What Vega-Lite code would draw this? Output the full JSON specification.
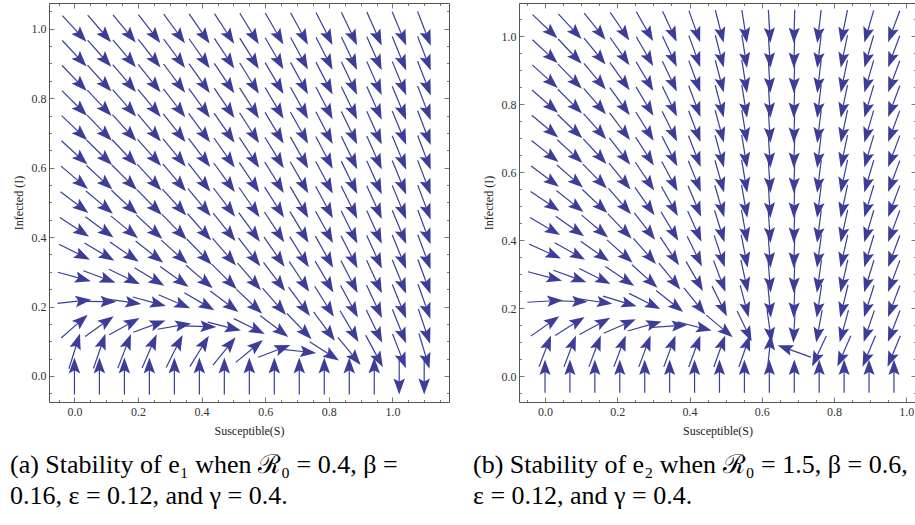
{
"$schema": "https://vega.github.io/schema/vega-lite/v6.json",
"background": "white",
"padding": {"left": 9, "top": 2, "right": 0, "bottom": 0},
"spacing": 22,
"config": {
  "view": {"stroke": "#555", "strokeWidth": 1},
  "title": {"font": "Times New Roman, Liberation Serif, DejaVu Serif, serif", "fontWeight": "normal", "color": "#000"},
  "axis": {"labelFont": "Times New Roman, Liberation Serif, serif", "labelFontSize": 12, "labelColor": "#333", "titleFont": "Times New Roman, Liberation Serif, serif", "titleFontSize": 12, "titleFontWeight": "normal", "titleColor": "#222", "tickColor": "#555", "tickWidth": 0.8, "domain": false, "grid": false, "labelFlush": false, "labelOverlap": false}
},
"datasets": {
"a": [
{"S":0,"I":0,"u":0,"v":1.68},{"S":0,"I":0.0714,"u":0.4,"v":1.16},{"S":0,"I":0.1429,"u":0.8,"v":0.64},{"S":0,"I":0.2143,"u":1.2,"v":0.12},{"S":0,"I":0.2857,"u":1.6,"v":-0.4},{"S":0,"I":0.3571,"u":2,"v":-0.92},{"S":0,"I":0.4286,"u":2.4,"v":-1.44},{"S":0,"I":0.5,"u":2.8,"v":-1.96},{"S":0,"I":0.5714,"u":3.2,"v":-2.48},{"S":0,"I":0.6429,"u":3.6,"v":-3},{"S":0,"I":0.7143,"u":4,"v":-3.52},{"S":0,"I":0.7857,"u":4.4,"v":-4.04},{"S":0,"I":0.8571,"u":4.8,"v":-4.56},{"S":0,"I":0.9286,"u":5.2,"v":-5.08},{"S":0,"I":1,"u":5.6,"v":-5.6},
{"S":0.0786,"I":0,"u":0,"v":1.548},{"S":0.0786,"I":0.0714,"u":0.387,"v":1.028},{"S":0.0786,"I":0.1429,"u":0.775,"v":0.508},{"S":0.0786,"I":0.2143,"u":1.162,"v":-0.012},{"S":0.0786,"I":0.2857,"u":1.55,"v":-0.532},{"S":0.0786,"I":0.3571,"u":1.937,"v":-1.052},{"S":0.0786,"I":0.4286,"u":2.324,"v":-1.572},{"S":0.0786,"I":0.5,"u":2.712,"v":-2.092},{"S":0.0786,"I":0.5714,"u":3.099,"v":-2.612},{"S":0.0786,"I":0.6429,"u":3.487,"v":-3.132},{"S":0.0786,"I":0.7143,"u":3.874,"v":-3.652},{"S":0.0786,"I":0.7857,"u":4.261,"v":-4.172},{"S":0.0786,"I":0.8571,"u":4.649,"v":-4.692},{"S":0.0786,"I":0.9286,"u":5.036,"v":-5.212},{"S":0.0786,"I":1,"u":5.424,"v":-5.732},
{"S":0.1571,"I":0,"u":0,"v":1.416},{"S":0.1571,"I":0.0714,"u":0.375,"v":0.896},{"S":0.1571,"I":0.1429,"u":0.75,"v":0.376},{"S":0.1571,"I":0.2143,"u":1.125,"v":-0.144},{"S":0.1571,"I":0.2857,"u":1.5,"v":-0.664},{"S":0.1571,"I":0.3571,"u":1.874,"v":-1.184},{"S":0.1571,"I":0.4286,"u":2.249,"v":-1.704},{"S":0.1571,"I":0.5,"u":2.624,"v":-2.224},{"S":0.1571,"I":0.5714,"u":2.999,"v":-2.744},{"S":0.1571,"I":0.6429,"u":3.374,"v":-3.264},{"S":0.1571,"I":0.7143,"u":3.749,"v":-3.784},{"S":0.1571,"I":0.7857,"u":4.124,"v":-4.304},{"S":0.1571,"I":0.8571,"u":4.499,"v":-4.824},{"S":0.1571,"I":0.9286,"u":4.874,"v":-5.344},{"S":0.1571,"I":1,"u":5.249,"v":-5.864},
{"S":0.2357,"I":0,"u":0,"v":1.284},{"S":0.2357,"I":0.0714,"u":0.362,"v":0.764},{"S":0.2357,"I":0.1429,"u":0.725,"v":0.244},{"S":0.2357,"I":0.2143,"u":1.087,"v":-0.276},{"S":0.2357,"I":0.2857,"u":1.449,"v":-0.796},{"S":0.2357,"I":0.3571,"u":1.811,"v":-1.316},{"S":0.2357,"I":0.4286,"u":2.174,"v":-1.836},{"S":0.2357,"I":0.5,"u":2.536,"v":-2.356},{"S":0.2357,"I":0.5714,"u":2.898,"v":-2.876},{"S":0.2357,"I":0.6429,"u":3.261,"v":-3.396},{"S":0.2357,"I":0.7143,"u":3.623,"v":-3.916},{"S":0.2357,"I":0.7857,"u":3.985,"v":-4.436},{"S":0.2357,"I":0.8571,"u":4.348,"v":-4.956},{"S":0.2357,"I":0.9286,"u":4.71,"v":-5.476},{"S":0.2357,"I":1,"u":5.072,"v":-5.996},
{"S":0.3143,"I":0,"u":0,"v":1.152},{"S":0.3143,"I":0.0714,"u":0.35,"v":0.632},{"S":0.3143,"I":0.1429,"u":0.699,"v":0.112},{"S":0.3143,"I":0.2143,"u":1.049,"v":-0.408},{"S":0.3143,"I":0.2857,"u":1.399,"v":-0.928},{"S":0.3143,"I":0.3571,"u":1.749,"v":-1.448},{"S":0.3143,"I":0.4286,"u":2.098,"v":-1.968},{"S":0.3143,"I":0.5,"u":2.448,"v":-2.488},{"S":0.3143,"I":0.5714,"u":2.798,"v":-3.008},{"S":0.3143,"I":0.6429,"u":3.147,"v":-3.528},{"S":0.3143,"I":0.7143,"u":3.497,"v":-4.048},{"S":0.3143,"I":0.7857,"u":3.847,"v":-4.568},{"S":0.3143,"I":0.8571,"u":4.196,"v":-5.088},{"S":0.3143,"I":0.9286,"u":4.546,"v":-5.608},{"S":0.3143,"I":1,"u":4.896,"v":-6.128},
{"S":0.3929,"I":0,"u":0,"v":1.02},{"S":0.3929,"I":0.0714,"u":0.337,"v":0.5},{"S":0.3929,"I":0.1429,"u":0.674,"v":-0.02},{"S":0.3929,"I":0.2143,"u":1.011,"v":-0.54},{"S":0.3929,"I":0.2857,"u":1.348,"v":-1.06},{"S":0.3929,"I":0.3571,"u":1.686,"v":-1.58},{"S":0.3929,"I":0.4286,"u":2.023,"v":-2.1},{"S":0.3929,"I":0.5,"u":2.36,"v":-2.62},{"S":0.3929,"I":0.5714,"u":2.697,"v":-3.14},{"S":0.3929,"I":0.6429,"u":3.034,"v":-3.66},{"S":0.3929,"I":0.7143,"u":3.371,"v":-4.18},{"S":0.3929,"I":0.7857,"u":3.708,"v":-4.7},{"S":0.3929,"I":0.8571,"u":4.045,"v":-5.22},{"S":0.3929,"I":0.9286,"u":4.382,"v":-5.74},{"S":0.3929,"I":1,"u":4.719,"v":-6.26},
{"S":0.4714,"I":0,"u":0,"v":0.888},{"S":0.4714,"I":0.0714,"u":0.325,"v":0.368},{"S":0.4714,"I":0.1429,"u":0.649,"v":-0.152},{"S":0.4714,"I":0.2143,"u":0.974,"v":-0.672},{"S":0.4714,"I":0.2857,"u":1.298,"v":-1.192},{"S":0.4714,"I":0.3571,"u":1.623,"v":-1.712},{"S":0.4714,"I":0.4286,"u":1.948,"v":-2.232},{"S":0.4714,"I":0.5,"u":2.272,"v":-2.752},{"S":0.4714,"I":0.5714,"u":2.597,"v":-3.272},{"S":0.4714,"I":0.6429,"u":2.921,"v":-3.792},{"S":0.4714,"I":0.7143,"u":3.246,"v":-4.312},{"S":0.4714,"I":0.7857,"u":3.571,"v":-4.832},{"S":0.4714,"I":0.8571,"u":3.895,"v":-5.352},{"S":0.4714,"I":0.9286,"u":4.22,"v":-5.872},{"S":0.4714,"I":1,"u":4.544,"v":-6.392},
{"S":0.55,"I":0,"u":0,"v":0.756},{"S":0.55,"I":0.0714,"u":0.312,"v":0.236},{"S":0.55,"I":0.1429,"u":0.624,"v":-0.284},{"S":0.55,"I":0.2143,"u":0.936,"v":-0.804},{"S":0.55,"I":0.2857,"u":1.248,"v":-1.324},{"S":0.55,"I":0.3571,"u":1.56,"v":-1.844},{"S":0.55,"I":0.4286,"u":1.872,"v":-2.364},{"S":0.55,"I":0.5,"u":2.184,"v":-2.884},{"S":0.55,"I":0.5714,"u":2.496,"v":-3.404},{"S":0.55,"I":0.6429,"u":2.808,"v":-3.924},{"S":0.55,"I":0.7143,"u":3.12,"v":-4.444},{"S":0.55,"I":0.7857,"u":3.432,"v":-4.964},{"S":0.55,"I":0.8571,"u":3.744,"v":-5.484},{"S":0.55,"I":0.9286,"u":4.056,"v":-6.004},{"S":0.55,"I":1,"u":4.368,"v":-6.524},
{"S":0.6286,"I":0,"u":0,"v":0.624},{"S":0.6286,"I":0.0714,"u":0.299,"v":0.104},{"S":0.6286,"I":0.1429,"u":0.599,"v":-0.416},{"S":0.6286,"I":0.2143,"u":0.898,"v":-0.936},{"S":0.6286,"I":0.2857,"u":1.198,"v":-1.456},{"S":0.6286,"I":0.3571,"u":1.497,"v":-1.976},{"S":0.6286,"I":0.4286,"u":1.796,"v":-2.496},{"S":0.6286,"I":0.5,"u":2.096,"v":-3.016},{"S":0.6286,"I":0.5714,"u":2.395,"v":-3.536},{"S":0.6286,"I":0.6429,"u":2.695,"v":-4.056},{"S":0.6286,"I":0.7143,"u":2.994,"v":-4.576},{"S":0.6286,"I":0.7857,"u":3.293,"v":-5.096},{"S":0.6286,"I":0.8571,"u":3.593,"v":-5.616},{"S":0.6286,"I":0.9286,"u":3.892,"v":-6.136},{"S":0.6286,"I":1,"u":4.192,"v":-6.656},
{"S":0.7071,"I":0,"u":0,"v":0.492},{"S":0.7071,"I":0.0714,"u":0.287,"v":-0.028},{"S":0.7071,"I":0.1429,"u":0.574,"v":-0.548},{"S":0.7071,"I":0.2143,"u":0.861,"v":-1.068},{"S":0.7071,"I":0.2857,"u":1.148,"v":-1.588},{"S":0.7071,"I":0.3571,"u":1.435,"v":-2.108},{"S":0.7071,"I":0.4286,"u":1.721,"v":-2.628},{"S":0.7071,"I":0.5,"u":2.008,"v":-3.148},{"S":0.7071,"I":0.5714,"u":2.295,"v":-3.668},{"S":0.7071,"I":0.6429,"u":2.582,"v":-4.188},{"S":0.7071,"I":0.7143,"u":2.869,"v":-4.708},{"S":0.7071,"I":0.7857,"u":3.156,"v":-5.228},{"S":0.7071,"I":0.8571,"u":3.443,"v":-5.748},{"S":0.7071,"I":0.9286,"u":3.73,"v":-6.268},{"S":0.7071,"I":1,"u":4.017,"v":-6.788},
{"S":0.7857,"I":0,"u":0,"v":0.36},{"S":0.7857,"I":0.0714,"u":0.274,"v":-0.16},{"S":0.7857,"I":0.1429,"u":0.549,"v":-0.68},{"S":0.7857,"I":0.2143,"u":0.823,"v":-1.2},{"S":0.7857,"I":0.2857,"u":1.097,"v":-1.72},{"S":0.7857,"I":0.3571,"u":1.372,"v":-2.24},{"S":0.7857,"I":0.4286,"u":1.646,"v":-2.76},{"S":0.7857,"I":0.5,"u":1.92,"v":-3.28},{"S":0.7857,"I":0.5714,"u":2.194,"v":-3.8},{"S":0.7857,"I":0.6429,"u":2.469,"v":-4.32},{"S":0.7857,"I":0.7143,"u":2.743,"v":-4.84},{"S":0.7857,"I":0.7857,"u":3.017,"v":-5.36},{"S":0.7857,"I":0.8571,"u":3.292,"v":-5.88},{"S":0.7857,"I":0.9286,"u":3.566,"v":-6.4},{"S":0.7857,"I":1,"u":3.84,"v":-6.92},
{"S":0.8643,"I":0,"u":0,"v":0.228},{"S":0.8643,"I":0.0714,"u":0.262,"v":-0.292},{"S":0.8643,"I":0.1429,"u":0.523,"v":-0.812},{"S":0.8643,"I":0.2143,"u":0.785,"v":-1.332},{"S":0.8643,"I":0.2857,"u":1.047,"v":-1.852},{"S":0.8643,"I":0.3571,"u":1.309,"v":-2.372},{"S":0.8643,"I":0.4286,"u":1.57,"v":-2.892},{"S":0.8643,"I":0.5,"u":1.832,"v":-3.412},{"S":0.8643,"I":0.5714,"u":2.094,"v":-3.932},{"S":0.8643,"I":0.6429,"u":2.355,"v":-4.452},{"S":0.8643,"I":0.7143,"u":2.617,"v":-4.972},{"S":0.8643,"I":0.7857,"u":2.879,"v":-5.492},{"S":0.8643,"I":0.8571,"u":3.14,"v":-6.012},{"S":0.8643,"I":0.9286,"u":3.402,"v":-6.532},{"S":0.8643,"I":1,"u":3.664,"v":-7.052},
{"S":0.9429,"I":0,"u":0,"v":0.096},{"S":0.9429,"I":0.0714,"u":0.249,"v":-0.424},{"S":0.9429,"I":0.1429,"u":0.498,"v":-0.944},{"S":0.9429,"I":0.2143,"u":0.747,"v":-1.464},{"S":0.9429,"I":0.2857,"u":0.996,"v":-1.984},{"S":0.9429,"I":0.3571,"u":1.246,"v":-2.504},{"S":0.9429,"I":0.4286,"u":1.495,"v":-3.024},{"S":0.9429,"I":0.5,"u":1.744,"v":-3.544},{"S":0.9429,"I":0.5714,"u":1.993,"v":-4.064},{"S":0.9429,"I":0.6429,"u":2.242,"v":-4.584},{"S":0.9429,"I":0.7143,"u":2.491,"v":-5.104},{"S":0.9429,"I":0.7857,"u":2.74,"v":-5.624},{"S":0.9429,"I":0.8571,"u":2.989,"v":-6.144},{"S":0.9429,"I":0.9286,"u":3.238,"v":-6.664},{"S":0.9429,"I":1,"u":3.487,"v":-7.184},
{"S":1.0214,"I":0,"u":0,"v":-0.036},{"S":1.0214,"I":0.0714,"u":0.237,"v":-0.556},{"S":1.0214,"I":0.1429,"u":0.473,"v":-1.076},{"S":1.0214,"I":0.2143,"u":0.71,"v":-1.596},{"S":1.0214,"I":0.2857,"u":0.946,"v":-2.116},{"S":1.0214,"I":0.3571,"u":1.183,"v":-2.636},{"S":1.0214,"I":0.4286,"u":1.42,"v":-3.156},{"S":1.0214,"I":0.5,"u":1.656,"v":-3.676},{"S":1.0214,"I":0.5714,"u":1.893,"v":-4.196},{"S":1.0214,"I":0.6429,"u":2.129,"v":-4.716},{"S":1.0214,"I":0.7143,"u":2.366,"v":-5.236},{"S":1.0214,"I":0.7857,"u":2.603,"v":-5.756},{"S":1.0214,"I":0.8571,"u":2.839,"v":-6.276},{"S":1.0214,"I":0.9286,"u":3.076,"v":-6.796},{"S":1.0214,"I":1,"u":3.312,"v":-7.316},
{"S":1.1,"I":0,"u":0,"v":-0.168},{"S":1.1,"I":0.0714,"u":0.224,"v":-0.688},{"S":1.1,"I":0.1429,"u":0.448,"v":-1.208},{"S":1.1,"I":0.2143,"u":0.672,"v":-1.728},{"S":1.1,"I":0.2857,"u":0.896,"v":-2.248},{"S":1.1,"I":0.3571,"u":1.12,"v":-2.768},{"S":1.1,"I":0.4286,"u":1.344,"v":-3.288},{"S":1.1,"I":0.5,"u":1.568,"v":-3.808},{"S":1.1,"I":0.5714,"u":1.792,"v":-4.328},{"S":1.1,"I":0.6429,"u":2.016,"v":-4.848},{"S":1.1,"I":0.7143,"u":2.24,"v":-5.368},{"S":1.1,"I":0.7857,"u":2.464,"v":-5.888},{"S":1.1,"I":0.8571,"u":2.688,"v":-6.408},{"S":1.1,"I":0.9286,"u":2.912,"v":-6.928},{"S":1.1,"I":1,"u":3.136,"v":-7.448}
],
"b": [
{"S":0,"I":0,"u":0,"v":1.633},{"S":0,"I":0.0735,"u":0.4,"v":1.113},{"S":0,"I":0.147,"u":0.8,"v":0.593},{"S":0,"I":0.2205,"u":1.2,"v":0.073},{"S":0,"I":0.294,"u":1.6,"v":-0.447},{"S":0,"I":0.3675,"u":2,"v":-0.967},{"S":0,"I":0.441,"u":2.4,"v":-1.487},{"S":0,"I":0.5145,"u":2.8,"v":-2.007},{"S":0,"I":0.588,"u":3.2,"v":-2.527},{"S":0,"I":0.6615,"u":3.6,"v":-3.047},{"S":0,"I":0.735,"u":4,"v":-3.567},{"S":0,"I":0.8085,"u":4.4,"v":-4.087},{"S":0,"I":0.882,"u":4.8,"v":-4.607},{"S":0,"I":0.9555,"u":5.2,"v":-5.127},{"S":0,"I":1.029,"u":5.6,"v":-5.647},
{"S":0.069,"I":0,"u":0,"v":1.52},{"S":0.069,"I":0.0735,"u":0.359,"v":1},{"S":0.069,"I":0.147,"u":0.717,"v":0.48},{"S":0.069,"I":0.2205,"u":1.076,"v":-0.04},{"S":0.069,"I":0.294,"u":1.434,"v":-0.56},{"S":0.069,"I":0.3675,"u":1.793,"v":-1.08},{"S":0.069,"I":0.441,"u":2.152,"v":-1.6},{"S":0.069,"I":0.5145,"u":2.51,"v":-2.12},{"S":0.069,"I":0.588,"u":2.869,"v":-2.64},{"S":0.069,"I":0.6615,"u":3.227,"v":-3.16},{"S":0.069,"I":0.735,"u":3.586,"v":-3.68},{"S":0.069,"I":0.8085,"u":3.945,"v":-4.2},{"S":0.069,"I":0.882,"u":4.303,"v":-4.72},{"S":0.069,"I":0.9555,"u":4.662,"v":-5.24},{"S":0.069,"I":1.029,"u":5.02,"v":-5.76},
{"S":0.138,"I":0,"u":0,"v":1.407},{"S":0.138,"I":0.0735,"u":0.317,"v":0.887},{"S":0.138,"I":0.147,"u":0.634,"v":0.367},{"S":0.138,"I":0.2205,"u":0.952,"v":-0.153},{"S":0.138,"I":0.294,"u":1.269,"v":-0.673},{"S":0.138,"I":0.3675,"u":1.586,"v":-1.193},{"S":0.138,"I":0.441,"u":1.903,"v":-1.713},{"S":0.138,"I":0.5145,"u":2.22,"v":-2.233},{"S":0.138,"I":0.588,"u":2.538,"v":-2.753},{"S":0.138,"I":0.6615,"u":2.855,"v":-3.273},{"S":0.138,"I":0.735,"u":3.172,"v":-3.793},{"S":0.138,"I":0.8085,"u":3.489,"v":-4.313},{"S":0.138,"I":0.882,"u":3.806,"v":-4.833},{"S":0.138,"I":0.9555,"u":4.124,"v":-5.353},{"S":0.138,"I":1.029,"u":4.441,"v":-5.873},
{"S":0.207,"I":0,"u":0,"v":1.295},{"S":0.207,"I":0.0735,"u":0.276,"v":0.775},{"S":0.207,"I":0.147,"u":0.552,"v":0.255},{"S":0.207,"I":0.2205,"u":0.827,"v":-0.265},{"S":0.207,"I":0.294,"u":1.103,"v":-0.785},{"S":0.207,"I":0.3675,"u":1.379,"v":-1.305},{"S":0.207,"I":0.441,"u":1.655,"v":-1.825},{"S":0.207,"I":0.5145,"u":1.931,"v":-2.345},{"S":0.207,"I":0.588,"u":2.206,"v":-2.865},{"S":0.207,"I":0.6615,"u":2.482,"v":-3.385},{"S":0.207,"I":0.735,"u":2.758,"v":-3.905},{"S":0.207,"I":0.8085,"u":3.034,"v":-4.425},{"S":0.207,"I":0.882,"u":3.31,"v":-4.945},{"S":0.207,"I":0.9555,"u":3.585,"v":-5.465},{"S":0.207,"I":1.029,"u":3.861,"v":-5.985},
{"S":0.276,"I":0,"u":0,"v":1.182},{"S":0.276,"I":0.0735,"u":0.234,"v":0.662},{"S":0.276,"I":0.147,"u":0.469,"v":0.142},{"S":0.276,"I":0.2205,"u":0.703,"v":-0.378},{"S":0.276,"I":0.294,"u":0.938,"v":-0.898},{"S":0.276,"I":0.3675,"u":1.172,"v":-1.418},{"S":0.276,"I":0.441,"u":1.406,"v":-1.938},{"S":0.276,"I":0.5145,"u":1.641,"v":-2.458},{"S":0.276,"I":0.588,"u":1.875,"v":-2.978},{"S":0.276,"I":0.6615,"u":2.11,"v":-3.498},{"S":0.276,"I":0.735,"u":2.344,"v":-4.018},{"S":0.276,"I":0.8085,"u":2.578,"v":-4.538},{"S":0.276,"I":0.882,"u":2.813,"v":-5.058},{"S":0.276,"I":0.9555,"u":3.047,"v":-5.578},{"S":0.276,"I":1.029,"u":3.282,"v":-6.098},
{"S":0.345,"I":0,"u":0,"v":1.069},{"S":0.345,"I":0.0735,"u":0.193,"v":0.549},{"S":0.345,"I":0.147,"u":0.386,"v":0.029},{"S":0.345,"I":0.2205,"u":0.579,"v":-0.491},{"S":0.345,"I":0.294,"u":0.772,"v":-1.011},{"S":0.345,"I":0.3675,"u":0.965,"v":-1.531},{"S":0.345,"I":0.441,"u":1.158,"v":-2.051},{"S":0.345,"I":0.5145,"u":1.351,"v":-2.571},{"S":0.345,"I":0.588,"u":1.544,"v":-3.091},{"S":0.345,"I":0.6615,"u":1.737,"v":-3.611},{"S":0.345,"I":0.735,"u":1.93,"v":-4.131},{"S":0.345,"I":0.8085,"u":2.123,"v":-4.651},{"S":0.345,"I":0.882,"u":2.316,"v":-5.171},{"S":0.345,"I":0.9555,"u":2.509,"v":-5.691},{"S":0.345,"I":1.029,"u":2.702,"v":-6.211},
{"S":0.414,"I":0,"u":0,"v":0.957},{"S":0.414,"I":0.0735,"u":0.152,"v":0.437},{"S":0.414,"I":0.147,"u":0.303,"v":-0.083},{"S":0.414,"I":0.2205,"u":0.455,"v":-0.603},{"S":0.414,"I":0.294,"u":0.606,"v":-1.123},{"S":0.414,"I":0.3675,"u":0.758,"v":-1.643},{"S":0.414,"I":0.441,"u":0.91,"v":-2.163},{"S":0.414,"I":0.5145,"u":1.061,"v":-2.683},{"S":0.414,"I":0.588,"u":1.213,"v":-3.203},{"S":0.414,"I":0.6615,"u":1.364,"v":-3.723},{"S":0.414,"I":0.735,"u":1.516,"v":-4.243},{"S":0.414,"I":0.8085,"u":1.668,"v":-4.763},{"S":0.414,"I":0.882,"u":1.819,"v":-5.283},{"S":0.414,"I":0.9555,"u":1.971,"v":-5.803},{"S":0.414,"I":1.029,"u":2.122,"v":-6.323},
{"S":0.483,"I":0,"u":0,"v":0.844},{"S":0.483,"I":0.0735,"u":0.11,"v":0.324},{"S":0.483,"I":0.147,"u":0.22,"v":-0.196},{"S":0.483,"I":0.2205,"u":0.331,"v":-0.716},{"S":0.483,"I":0.294,"u":0.441,"v":-1.236},{"S":0.483,"I":0.3675,"u":0.551,"v":-1.756},{"S":0.483,"I":0.441,"u":0.661,"v":-2.276},{"S":0.483,"I":0.5145,"u":0.771,"v":-2.796},{"S":0.483,"I":0.588,"u":0.882,"v":-3.316},{"S":0.483,"I":0.6615,"u":0.992,"v":-3.836},{"S":0.483,"I":0.735,"u":1.102,"v":-4.356},{"S":0.483,"I":0.8085,"u":1.212,"v":-4.876},{"S":0.483,"I":0.882,"u":1.322,"v":-5.396},{"S":0.483,"I":0.9555,"u":1.433,"v":-5.916},{"S":0.483,"I":1.029,"u":1.543,"v":-6.436},
{"S":0.552,"I":0,"u":0,"v":0.732},{"S":0.552,"I":0.0735,"u":0.069,"v":0.212},{"S":0.552,"I":0.147,"u":0.138,"v":-0.308},{"S":0.552,"I":0.2205,"u":0.206,"v":-0.828},{"S":0.552,"I":0.294,"u":0.275,"v":-1.348},{"S":0.552,"I":0.3675,"u":0.344,"v":-1.868},{"S":0.552,"I":0.441,"u":0.413,"v":-2.388},{"S":0.552,"I":0.5145,"u":0.482,"v":-2.908},{"S":0.552,"I":0.588,"u":0.55,"v":-3.428},{"S":0.552,"I":0.6615,"u":0.619,"v":-3.948},{"S":0.552,"I":0.735,"u":0.688,"v":-4.468},{"S":0.552,"I":0.8085,"u":0.757,"v":-4.988},{"S":0.552,"I":0.882,"u":0.826,"v":-5.508},{"S":0.552,"I":0.9555,"u":0.894,"v":-6.028},{"S":0.552,"I":1.029,"u":0.963,"v":-6.548},
{"S":0.621,"I":0,"u":0,"v":0.619},{"S":0.621,"I":0.0735,"u":0.01,"v":0.099},{"S":0.621,"I":0.147,"u":0.055,"v":-0.421},{"S":0.621,"I":0.2205,"u":0.082,"v":-0.941},{"S":0.621,"I":0.294,"u":0.11,"v":-1.461},{"S":0.621,"I":0.3675,"u":0.137,"v":-1.981},{"S":0.621,"I":0.441,"u":0.164,"v":-2.501},{"S":0.621,"I":0.5145,"u":0.192,"v":-3.021},{"S":0.621,"I":0.588,"u":0.219,"v":-3.541},{"S":0.621,"I":0.6615,"u":0.247,"v":-4.061},{"S":0.621,"I":0.735,"u":0.274,"v":-4.581},{"S":0.621,"I":0.8085,"u":0.301,"v":-5.101},{"S":0.621,"I":0.882,"u":0.329,"v":-5.621},{"S":0.621,"I":0.9555,"u":0.356,"v":-6.141},{"S":0.621,"I":1.029,"u":0.384,"v":-6.661},
{"S":0.69,"I":0,"u":0,"v":0.506},{"S":0.69,"I":0.0735,"u":-0.097,"v":0.037},{"S":0.69,"I":0.147,"u":-0.028,"v":-0.534},{"S":0.69,"I":0.2205,"u":-0.042,"v":-1.054},{"S":0.69,"I":0.294,"u":-0.056,"v":-1.574},{"S":0.69,"I":0.3675,"u":-0.07,"v":-2.094},{"S":0.69,"I":0.441,"u":-0.084,"v":-2.614},{"S":0.69,"I":0.5145,"u":-0.098,"v":-3.134},{"S":0.69,"I":0.588,"u":-0.112,"v":-3.654},{"S":0.69,"I":0.6615,"u":-0.126,"v":-4.174},{"S":0.69,"I":0.735,"u":-0.14,"v":-4.694},{"S":0.69,"I":0.8085,"u":-0.154,"v":-5.214},{"S":0.69,"I":0.882,"u":-0.168,"v":-5.734},{"S":0.69,"I":0.9555,"u":-0.182,"v":-6.254},{"S":0.69,"I":1.029,"u":-0.196,"v":-6.774},
{"S":0.759,"I":0,"u":0,"v":0.394},{"S":0.759,"I":0.0735,"u":-0.055,"v":-0.126},{"S":0.759,"I":0.147,"u":-0.111,"v":-0.646},{"S":0.759,"I":0.2205,"u":-0.166,"v":-1.166},{"S":0.759,"I":0.294,"u":-0.222,"v":-1.686},{"S":0.759,"I":0.3675,"u":-0.277,"v":-2.206},{"S":0.759,"I":0.441,"u":-0.332,"v":-2.726},{"S":0.759,"I":0.5145,"u":-0.388,"v":-3.246},{"S":0.759,"I":0.588,"u":-0.443,"v":-3.766},{"S":0.759,"I":0.6615,"u":-0.499,"v":-4.286},{"S":0.759,"I":0.735,"u":-0.554,"v":-4.806},{"S":0.759,"I":0.8085,"u":-0.609,"v":-5.326},{"S":0.759,"I":0.882,"u":-0.665,"v":-5.846},{"S":0.759,"I":0.9555,"u":-0.72,"v":-6.366},{"S":0.759,"I":1.029,"u":-0.776,"v":-6.886},
{"S":0.828,"I":0,"u":0,"v":0.281},{"S":0.828,"I":0.0735,"u":-0.097,"v":-0.239},{"S":0.828,"I":0.147,"u":-0.194,"v":-0.759},{"S":0.828,"I":0.2205,"u":-0.29,"v":-1.279},{"S":0.828,"I":0.294,"u":-0.387,"v":-1.799},{"S":0.828,"I":0.3675,"u":-0.484,"v":-2.319},{"S":0.828,"I":0.441,"u":-0.581,"v":-2.839},{"S":0.828,"I":0.5145,"u":-0.678,"v":-3.359},{"S":0.828,"I":0.588,"u":-0.774,"v":-3.879},{"S":0.828,"I":0.6615,"u":-0.871,"v":-4.399},{"S":0.828,"I":0.735,"u":-0.968,"v":-4.919},{"S":0.828,"I":0.8085,"u":-1.065,"v":-5.439},{"S":0.828,"I":0.882,"u":-1.162,"v":-5.959},{"S":0.828,"I":0.9555,"u":-1.258,"v":-6.479},{"S":0.828,"I":1.029,"u":-1.355,"v":-6.999},
{"S":0.897,"I":0,"u":0,"v":0.168},{"S":0.897,"I":0.0735,"u":-0.138,"v":-0.352},{"S":0.897,"I":0.147,"u":-0.276,"v":-0.872},{"S":0.897,"I":0.2205,"u":-0.415,"v":-1.392},{"S":0.897,"I":0.294,"u":-0.553,"v":-1.912},{"S":0.897,"I":0.3675,"u":-0.691,"v":-2.432},{"S":0.897,"I":0.441,"u":-0.829,"v":-2.952},{"S":0.897,"I":0.5145,"u":-0.967,"v":-3.472},{"S":0.897,"I":0.588,"u":-1.106,"v":-3.992},{"S":0.897,"I":0.6615,"u":-1.244,"v":-4.512},{"S":0.897,"I":0.735,"u":-1.382,"v":-5.032},{"S":0.897,"I":0.8085,"u":-1.52,"v":-5.552},{"S":0.897,"I":0.882,"u":-1.658,"v":-6.072},{"S":0.897,"I":0.9555,"u":-1.797,"v":-6.592},{"S":0.897,"I":1.029,"u":-1.935,"v":-7.112},
{"S":0.966,"I":0,"u":0,"v":0.056},{"S":0.966,"I":0.0735,"u":-0.18,"v":-0.464},{"S":0.966,"I":0.147,"u":-0.359,"v":-0.984},{"S":0.966,"I":0.2205,"u":-0.539,"v":-1.504},{"S":0.966,"I":0.294,"u":-0.718,"v":-2.024},{"S":0.966,"I":0.3675,"u":-0.898,"v":-2.544},{"S":0.966,"I":0.441,"u":-1.078,"v":-3.064},{"S":0.966,"I":0.5145,"u":-1.257,"v":-3.584},{"S":0.966,"I":0.588,"u":-1.437,"v":-4.104},{"S":0.966,"I":0.6615,"u":-1.616,"v":-4.624},{"S":0.966,"I":0.735,"u":-1.796,"v":-5.144},{"S":0.966,"I":0.8085,"u":-1.976,"v":-5.664},{"S":0.966,"I":0.882,"u":-2.155,"v":-6.184},{"S":0.966,"I":0.9555,"u":-2.335,"v":-6.704},{"S":0.966,"I":1.029,"u":-2.514,"v":-7.224}
]
},
"hconcat": [
{
  "data": {"name": "a"},
  "width": 400, "height": 399,
  "title": {"text": ["(a) Stability of e₁ when ℛ₀ = 0.4, β =", "0.16, ε = 0.12, and γ = 0.4."], "orient": "bottom", "anchor": "start", "frame": "bounds", "fontSize": 26, "lineHeight": 31, "offset": 16, "dx": -2},
  "transform": [
    {"calculate": "sqrt(datum.u*datum.u+datum.v*datum.v)", "as": "n"},
    {"calculate": "datum.u/datum.n", "as": "ux"},
    {"calculate": "datum.v/datum.n", "as": "vy"},
    {"calculate": "datum.S-0.0535*datum.ux", "as": "x0"},
    {"calculate": "datum.I-0.0535*datum.vy", "as": "y0"},
    {"calculate": "datum.S+0.025*datum.ux", "as": "xs"},
    {"calculate": "datum.I+0.025*datum.vy", "as": "ys"},
    {"calculate": "datum.S+0.0535*datum.ux", "as": "xe"},
    {"calculate": "datum.I+0.0535*datum.vy", "as": "ye"},
    {"calculate": "atan2(datum.ux*318, datum.vy*347)*180/PI", "as": "ang"}
  ],
  "layer": [
    {"mark": {"type": "rule", "color": "#3b3d99", "strokeWidth": 1.2},
     "encoding": {
       "x": {"field": "x0", "type": "quantitative", "scale": {"domain": [-0.08, 1.178], "nice": false, "zero": false}, "axis": {"orient": "bottom", "values": [0, 0.2, 0.4, 0.6, 0.8, 1], "format": ".1f", "tickSize": -5, "labelPadding": 9, "title": "Susceptible(S)", "titlePadding": 8}},
       "x2": {"field": "xs"},
       "y": {"field": "y0", "type": "quantitative", "scale": {"domain": [-0.075, 1.074], "nice": false, "zero": false}, "axis": {"orient": "left", "values": [0, 0.2, 0.4, 0.6, 0.8, 1], "format": ".1f", "tickSize": -5, "labelPadding": 8, "title": "Infected (I)", "titlePadding": 6}},
       "y2": {"field": "ys"}
     }},
    {"mark": {"type": "point", "shape": "M0,0L0.72,2L0,1.62L-0.72,2Z", "filled": true, "size": 256, "color": "#3b3d99", "opacity": 1, "strokeWidth": 0},
     "encoding": {
       "x": {"field": "xe", "type": "quantitative", "axis": {"orient": "bottom", "values": [-0.05,0.05,0.1,0.15,0.25,0.3,0.35,0.45,0.5,0.55,0.65,0.7,0.75,0.85,0.9,0.95,1.05,1.1,1.15], "tickSize": -2.5, "labels": false, "title": null}},
       "y": {"field": "ye", "type": "quantitative", "axis": {"orient": "left", "values": [-0.05,0.05,0.1,0.15,0.25,0.3,0.35,0.45,0.5,0.55,0.65,0.7,0.75,0.85,0.9,0.95,1.05], "tickSize": -2.5, "labels": false, "title": null}},
       "angle": {"field": "ang", "type": "quantitative", "scale": null}
     }},
    {"mark": {"type": "point", "opacity": 0},
     "encoding": {
       "x": {"field": "xe", "type": "quantitative", "axis": {"orient": "top", "values": [0, 0.2, 0.4, 0.6, 0.8, 1], "tickSize": -5, "labels": false, "title": null}},
       "y": {"field": "ye", "type": "quantitative", "axis": {"orient": "right", "values": [0, 0.2, 0.4, 0.6, 0.8, 1], "tickSize": -5, "labels": false, "title": null}}
     }},
    {"mark": {"type": "point", "opacity": 0},
     "encoding": {
       "x": {"field": "xe", "type": "quantitative", "axis": {"orient": "top", "values": [-0.05,0.05,0.1,0.15,0.25,0.3,0.35,0.45,0.5,0.55,0.65,0.7,0.75,0.85,0.9,0.95,1.05,1.1,1.15], "tickSize": -2.5, "labels": false, "title": null}},
       "y": {"field": "ye", "type": "quantitative", "axis": {"orient": "right", "values": [-0.05,0.05,0.1,0.15,0.25,0.3,0.35,0.45,0.5,0.55,0.65,0.7,0.75,0.85,0.9,0.95,1.05], "tickSize": -2.5, "labels": false, "title": null}}
     }}
  ],
  "resolve": {"axis": {"x": "independent", "y": "independent"}}
},
{
  "data": {"name": "b"},
  "width": 397, "height": 399,
  "title": {"text": ["(b) Stability of e₂ when ℛ₀ = 1.5, β = 0.6,", "ε = 0.12, and γ = 0.4."], "orient": "bottom", "anchor": "start", "frame": "bounds", "fontSize": 26, "lineHeight": 31, "offset": 16, "dx": -9},
  "transform": [
    {"calculate": "sqrt(datum.u*datum.u+datum.v*datum.v)", "as": "n"},
    {"calculate": "datum.u/datum.n", "as": "ux"},
    {"calculate": "datum.v/datum.n", "as": "vy"},
    {"calculate": "datum.S-0.049*datum.ux", "as": "x0"},
    {"calculate": "datum.I-0.049*datum.vy", "as": "y0"},
    {"calculate": "datum.S+0.023*datum.ux", "as": "xs"},
    {"calculate": "datum.I+0.023*datum.vy", "as": "ys"},
    {"calculate": "datum.S+0.049*datum.ux", "as": "xe"},
    {"calculate": "datum.I+0.049*datum.vy", "as": "ye"},
    {"calculate": "atan2(datum.ux*361, datum.vy*340)*180/PI", "as": "ang"}
  ],
  "layer": [
    {"mark": {"type": "rule", "color": "#3b3d99", "strokeWidth": 1.2},
     "encoding": {
       "x": {"field": "x0", "type": "quantitative", "scale": {"domain": [-0.072, 1.027], "nice": false, "zero": false}, "axis": {"orient": "bottom", "values": [0, 0.2, 0.4, 0.6, 0.8, 1], "format": ".1f", "tickSize": -5, "labelPadding": 9, "title": "Susceptible(S)", "titlePadding": 8}},
       "x2": {"field": "xs"},
       "y": {"field": "y0", "type": "quantitative", "scale": {"domain": [-0.076, 1.098], "nice": false, "zero": false}, "axis": {"orient": "left", "values": [0, 0.2, 0.4, 0.6, 0.8, 1], "format": ".1f", "tickSize": -5, "labelPadding": 8, "title": "Infected (I)", "titlePadding": 6}},
       "y2": {"field": "ys"}
     }},
    {"mark": {"type": "point", "shape": "M0,0L0.72,2L0,1.62L-0.72,2Z", "filled": true, "size": 240, "color": "#3b3d99", "opacity": 1, "strokeWidth": 0},
     "encoding": {
       "x": {"field": "xe", "type": "quantitative", "axis": {"orient": "bottom", "values": [-0.05,0.05,0.1,0.15,0.25,0.3,0.35,0.45,0.5,0.55,0.65,0.7,0.75,0.85,0.9,0.95], "tickSize": -2.5, "labels": false, "title": null}},
       "y": {"field": "ye", "type": "quantitative", "axis": {"orient": "left", "values": [-0.05,0.05,0.1,0.15,0.25,0.3,0.35,0.45,0.5,0.55,0.65,0.7,0.75,0.85,0.9,0.95,1.05], "tickSize": -2.5, "labels": false, "title": null}},
       "angle": {"field": "ang", "type": "quantitative", "scale": null}
     }},
    {"mark": {"type": "point", "opacity": 0},
     "encoding": {
       "x": {"field": "xe", "type": "quantitative", "axis": {"orient": "top", "values": [0, 0.2, 0.4, 0.6, 0.8, 1], "tickSize": -5, "labels": false, "title": null}},
       "y": {"field": "ye", "type": "quantitative", "axis": {"orient": "right", "values": [0, 0.2, 0.4, 0.6, 0.8, 1], "tickSize": -5, "labels": false, "title": null}}
     }},
    {"mark": {"type": "point", "opacity": 0},
     "encoding": {
       "x": {"field": "xe", "type": "quantitative", "axis": {"orient": "top", "values": [-0.05,0.05,0.1,0.15,0.25,0.3,0.35,0.45,0.5,0.55,0.65,0.7,0.75,0.85,0.9,0.95], "tickSize": -2.5, "labels": false, "title": null}},
       "y": {"field": "ye", "type": "quantitative", "axis": {"orient": "right", "values": [-0.05,0.05,0.1,0.15,0.25,0.3,0.35,0.45,0.5,0.55,0.65,0.7,0.75,0.85,0.9,0.95,1.05], "tickSize": -2.5, "labels": false, "title": null}}
     }}
  ],
  "resolve": {"axis": {"x": "independent", "y": "independent"}}
}
]
}
